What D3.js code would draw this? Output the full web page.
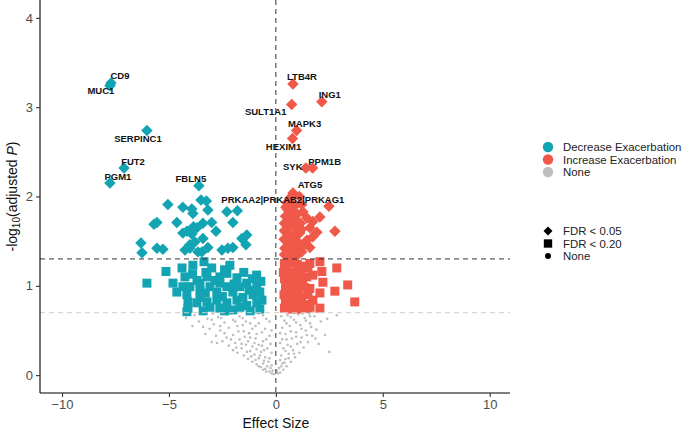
<!DOCTYPE html>
<html>
<head>
<meta charset="utf-8">
<script src="https://cdn.jsdelivr.net/npm/d3@7"></script>
<style>
  body { margin: 0; background: #fff; }
  text { font-family: "Liberation Sans", Arial, sans-serif; }
</style>
</head>
<body>
<svg id="chart" width="685" height="433"></svg>
<script>
const TEAL = '#13A4B4';
const RED = '#F0584A';
const GREY = '#BEBEBE';

// [effect size, -log10 adjusted P]
const decreaseLabelled = [
  ['CD9', -7.71, 3.27], ['MUC1', -7.76, 3.24], ['SERPINC1', -6.03, 2.74],
  ['FUT2', -7.1, 2.32], ['PGM1', -7.76, 2.15], ['FBLN5', -3.6, 2.12]
];
const increaseLabelled = [
  ['LTB4R', 0.8, 3.26], ['ING1', 2.15, 3.06], ['SULT1A1', 0.74, 3.03],
  ['MAPK3', 0.97, 2.74], ['HEXIM1', 0.78, 2.65], ['SYK', 1.4, 2.32],
  ['PPM1B', 1.72, 2.32], ['ATG5', 0.8, 2.04], ['PRKAA2|PRKAB2|PRKAG1', 2.48, 1.89]
];

const decreaseFdr05 = [
  [-5.05,1.91],[-4.35,1.88],[-3.93,1.86],[-3.5,1.96],[-3.25,1.95],[-3.18,1.85],[-2.29,1.83],
  [-1.8,1.84],[-5.56,1.71],[-5.7,1.69],[-4.63,1.71],[-3.88,1.81],[-3.85,1.66],[-3.41,1.7],
  [-3.0,1.71],[-2.8,1.61],[-2.01,1.71],[-4.35,1.59],[-4.02,1.62],[-3.69,1.65],[-3.93,1.58],
  [-3.79,1.49],[-4.02,1.46],[-3.41,1.53],[-3.18,1.43],[-3.46,1.38],[-2.52,1.4],[-2.24,1.42],
  [-1.59,1.53],[-1.4,1.46],[-1.36,1.57],[-5.56,1.42],[-5.28,1.41],[-6.31,1.48],[-6.26,1.37],
  [-4.16,1.61],[-2.01,1.43],[-3.64,1.38],[-4.02,1.42],[-4.25,1.4]
];
const decreaseFdr20 = [
  [-6.03,1.03],[-5.14,1.16],[-4.39,1.2],[-3.88,1.23],[-3.36,1.27],[-3.27,1.15],[-2.15,1.23],
  [-4.25,1.1],[-3.69,1.06],[-4.63,0.93],[-4.81,1.03],[-4.16,0.9],[-4.11,0.82],[-4.11,0.75],
  [-3.55,0.95],[-3.08,0.99],[-2.62,1.1],[-2.29,1.14],[-1.82,1.09],[-1.68,0.99],[-1.36,1.03],
  [-0.89,0.99],[-0.75,0.93],[-0.65,0.84],[-0.89,0.81],[-1.36,0.78],[-1.82,0.84],[-2.29,0.81],
  [-2.76,0.84],[-3.22,0.82],[-3.69,0.81],[-3.08,0.76],[-2.62,0.75],[-2.01,0.73],[-1.68,0.76],
  [-4.16,0.71],[-3.55,0.87],[-2.76,0.93],[-2.01,0.93],[-2.62,1.03],[-3.55,1.03],[-4.02,0.99],
  [-1.54,0.87],[-1.07,0.9],[-3.22,1.1],[-2.85,1.06],[-2.29,0.99],[-4.35,0.99],[-3.4,0.72],
  [-2.4,0.72],[-1.2,0.72],[-0.75,0.74],[-3.9,1.13],[-3.0,1.2],[-2.4,1.18],[-1.5,1.15],
  [-1.1,1.08],[-0.7,1.05],[-0.9,1.12],[-1.95,1.02],[-3.3,0.92],[-2.5,0.88],[-1.25,0.95]
];
const increaseFdr05 = [
  [0.52,1.93],[0.7,1.95],[0.9,1.9],[0.56,1.85],[0.75,1.82],[0.45,1.78],[0.65,1.75],[0.85,1.76],
  [1.0,1.8],[1.26,1.83],[1.45,1.76],[1.73,1.72],[2.06,1.77],[0.4,1.7],[0.6,1.68],[0.8,1.66],
  [1.03,1.67],[1.2,1.63],[1.59,1.65],[1.92,1.6],[2.76,1.61],[1.12,1.59],[0.93,1.58],[0.47,1.6],
  [0.7,1.55],[0.38,1.52],[0.56,1.48],[0.84,1.5],[1.03,1.49],[1.73,1.55],[1.45,1.51],[1.0,1.4],
  [1.59,1.43],[1.21,1.38],[0.42,1.42],[0.65,1.4],[0.5,1.34],[0.75,1.33],[0.95,1.33],[1.3,1.45],
  [0.47,1.88],[0.65,1.98],[1.1,2.0],[1.21,1.91],[0.4,1.62],[0.6,1.58],[0.4,1.35],[0.85,1.43],
  [1.15,1.7],[0.9,1.72]
];
const increaseFdr20 = [
  [1.59,1.25],[2.06,1.27],[2.15,1.16],[2.85,1.2],[1.73,1.12],[2.2,1.04],[2.06,0.92],[2.76,0.94],
  [3.36,1.01],[3.69,0.82],[1.59,0.97],[1.73,0.84],[2.06,0.75],[1.45,0.75],
  [0.4,1.25],[0.7,1.26],[1.0,1.24],[1.3,1.22],[0.5,1.17],[0.85,1.15],[1.15,1.13],[0.4,1.08],
  [0.65,1.06],[0.95,1.05],[1.25,1.03],[0.45,0.98],[0.75,0.97],[1.05,0.96],[1.35,0.98],[0.38,0.9],
  [0.6,0.88],[0.9,0.89],[1.2,0.87],[0.5,0.82],[0.8,0.8],[1.1,0.8],[1.4,0.79],[0.4,0.75],
  [0.7,0.74],[1.0,0.74],[1.3,0.75],[0.55,1.2],[1.45,1.1],[0.35,1.15],[1.5,0.9],[1.6,0.76],[1.5,1.2],
  [0.55,1.0],[0.8,1.1],[1.1,1.18],[0.45,0.84],[0.75,0.86],[1.05,0.9]
];
const notSignificant = [
  [-0.3,0.04],[-0.5,0.07],[-0.2,0.02],[-0.7,0.09],[-0.4,0.1],[-0.9,0.12],[-0.6,0.13],[-1.1,0.15],
  [-0.35,0.15],[-1.3,0.18],[-0.8,0.19],[-1.5,0.22],[-0.5,0.2],[-1.0,0.23],[-1.8,0.25],[-1.2,0.27],
  [-0.7,0.26],[-2.0,0.28],[-1.6,0.3],[-0.4,0.3],[-2.2,0.33],[-1.4,0.34],[-1.9,0.36],[-1.0,0.36],
  [-3.0,0.37],[-2.5,0.38],[-0.6,0.38],[-1.7,0.4],[-2.3,0.42],[-1.2,0.42],[-2.8,0.44],[-0.3,0.44],
  [-2.0,0.45],[-0.9,0.46],[-3.4,0.54],[-2.6,0.5],[-1.5,0.49],[-3.1,0.52],[-2.2,0.53],[-1.1,0.52],
  [-0.5,0.52],[-1.8,0.55],[-2.9,0.57],[-0.8,0.58],[-3.6,0.6],[-2.4,0.59],[-1.4,0.6],[-0.3,0.6],
  [-2.0,0.62],[-3.2,0.63],[-1.0,0.64],[-2.7,0.65],[-1.7,0.66],[-3.8,0.67],[-0.6,0.67],[-2.3,0.68],
  [-1.3,0.69],[-3.5,0.69],[-4.2,0.64],[-2.95,0.69],
  [-0.1,0.01],[-0.15,0.05],[-0.25,0.08],[-0.45,0.04],[-0.6,0.06],[-0.8,0.1],[-0.2,0.11],
  [-0.55,0.16],[-0.95,0.17],[-0.3,0.19],[-0.75,0.22],[-1.15,0.21],[-0.2,0.25],[-0.9,0.29],
  [-1.35,0.26],[-0.55,0.28],[-1.1,0.32],[-0.25,0.35],[-0.8,0.34],[-1.6,0.35],[-0.45,0.4],
  [-0.95,0.41],[-1.45,0.43],[-2.1,0.4],[-0.65,0.48],[-1.25,0.47],[-1.75,0.49],[-2.4,0.47],
  [-0.2,0.5],[-0.95,0.55],[-1.55,0.56],[-2.6,0.55],[-3.3,0.46],[-0.45,0.63],[-1.2,0.58],
  [-1.9,0.6],[-2.55,0.64],[-0.8,0.69],[-1.55,0.64],[-2.1,0.69],[-3.0,0.62],[-3.9,0.55],
  [-2.75,0.36],[-1.85,0.31],[-0.65,0.33],[-1.3,0.38],
  [0.2,0.03],[0.35,0.06],[0.15,0.08],[0.5,0.1],[0.3,0.13],[0.7,0.15],[0.45,0.18],[0.9,0.2],
  [0.25,0.22],[0.6,0.24],[1.1,0.25],[0.8,0.28],[0.35,0.3],[1.3,0.31],[0.55,0.34],[1.0,0.35],
  [1.5,0.37],[0.3,0.4],[0.75,0.41],[1.2,0.42],[1.7,0.44],[0.45,0.46],[0.95,0.48],[1.4,0.5],
  [1.9,0.51],[0.3,0.53],[0.65,0.55],[1.15,0.56],[1.6,0.58],[2.1,0.6],[0.4,0.61],[0.85,0.62],
  [1.35,0.64],[1.8,0.66],[0.55,0.67],[1.05,0.68],[2.85,0.67],[2.5,0.26],[2.3,0.45],[1.55,0.69],
  [0.25,0.66],[2.0,0.35],
  [0.1,0.02],[0.05,0.05],[0.25,0.1],[0.4,0.14],[0.6,0.19],[0.2,0.17],[0.85,0.24],[0.45,0.27],
  [0.7,0.32],[0.2,0.36],[1.15,0.37],[0.5,0.4],[0.95,0.43],[1.45,0.45],[0.2,0.47],[0.7,0.49],
  [1.2,0.52],[1.65,0.54],[0.5,0.58],[0.95,0.59],[1.4,0.61],[0.7,0.65],[1.25,0.69],[2.4,0.63],
  [1.85,0.41],[1.6,0.66]
];

const xTicks = [-10, -5, 0, 5, 10];
const yTicks = [0, 1, 2, 3, 4];
const thresholds = [1.301, 0.699];
const colourLegend = ['Decrease Exacerbation', 'Increase Exacerbation', 'None'];
const shapeLegend = ['FDR < 0.05', 'FDR < 0.20', 'None'];

// label placement (pixel offsets from the point, like ggrepel)
const labelOffset = {
  'CD9': [9, -4], 'MUC1': [-9, 8], 'SERPINC1': [-9, 12], 'FUT2': [9, -3], 'PGM1': [8, -3],
  'FBLN5': [-8, -4], 'LTB4R': [9, -4], 'ING1': [8, -4], 'SULT1A1': [-26, 10], 'MAPK3': [8, -3],
  'HEXIM1': [-9, 12], 'SYK': [-13, 2], 'PPM1B': [12, -3], 'ATG5': [17, -5],
  'PRKAA2|PRKAB2|PRKAG1': [-46, -3]
};

const svg = d3.select('#chart');
const panel = {left: 40, right: 510, top: 0, bottom: 393};

const x = d3.scaleLinear().domain([-11.03, 10.95]).range([panel.left, panel.right]);
const y = d3.scaleLinear().domain([-0.2, 4.2]).range([panel.bottom, panel.top]);

const plot = svg.append('g');

// grey cloud
plot.append('g').selectAll('circle')
  .data(notSignificant)
  .enter().append('circle')
  .attr('cx', d => x(d[0]))
  .attr('cy', d => y(d[1]))
  .attr('r', 1.3)
  .attr('fill', GREY);

// squares (FDR < 0.20)
let square = d3.symbol().type(d3.symbolSquare).size(81);
function drawSquares(data, colour) {
  plot.append('g').selectAll('path')
    .data(data)
    .enter().append('path')
    .attr('d', square)
    .attr('transform', d => `translate(${x(d[0])},${y(d[1])})`)
    .attr('fill', colour);
}
drawSquares(decreaseFdr20, TEAL);
drawSquares(increaseFdr20, RED);

// diamonds (FDR < 0.05)
let diamond = d3.symbol().type(d3.symbolSquare).size(66);
function drawDiamonds(data, colour) {
  plot.append('g').selectAll('path')
    .data(data)
    .enter().append('path')
    .attr('d', diamond)
    .attr('transform', d => `translate(${x(d[0])},${y(d[1])}) rotate(45)`)
    .attr('fill', colour);
}
drawDiamonds(decreaseFdr05, TEAL);
drawDiamonds(increaseFdr05, RED);
drawDiamonds(decreaseLabelled.map(d => [d[1], d[2]]), TEAL);
drawDiamonds(increaseLabelled.map(d => [d[1], d[2]]), RED);

// threshold lines
plot.append('line')
  .attr('x1', x(0)).attr('x2', x(0))
  .attr('y1', panel.top).attr('y2', panel.bottom)
  .attr('stroke', '#333').attr('stroke-width', 1)
  .attr('stroke-dasharray', '5,4');

plot.selectAll('line.thr')
  .data(thresholds)
  .enter().append('line')
  .attr('class', 'thr')
  .attr('x1', panel.left).attr('x2', panel.right)
  .attr('y1', d => y(d)).attr('y2', d => y(d))
  .attr('stroke', (d, i) => i === 0 ? '#333' : '#ccc')
  .attr('stroke-width', 1)
  .attr('stroke-dasharray', '5,4');

// gene labels
plot.append('g').selectAll('text')
  .data(decreaseLabelled.concat(increaseLabelled))
  .enter().append('text')
  .attr('x', d => x(d[1]) + labelOffset[d[0]][0])
  .attr('y', d => y(d[2]) + labelOffset[d[0]][1])
  .attr('text-anchor', 'middle')
  .style('font-size', '9.5px')
  .style('font-weight', 'bold')
  .attr('fill', '#111')
  .text(d => d[0]);

// axes
let xAxis = svg.append('g')
  .attr('transform', `translate(0,${panel.bottom})`)
  .call(d3.axisBottom(x).tickValues(xTicks).tickFormat(d3.format('d')).tickSize(4).tickPadding(3));
let yAxis = svg.append('g')
  .attr('transform', `translate(${panel.left},0)`)
  .call(d3.axisLeft(y).tickValues(yTicks).tickFormat(d3.format('d')).tickSize(4).tickPadding(3));

[xAxis, yAxis].forEach(a => {
  a.select('.domain').attr('stroke', '#000').attr('stroke-width', 1.1)
    .attr('d', a === xAxis ? `M${panel.left},0H${panel.right}` : `M0,${panel.top}V${panel.bottom}`);
  a.selectAll('.tick line').attr('stroke', '#333').attr('stroke-width', 1.1);
  a.selectAll('.tick text')
    .attr('fill', '#4d4d4d')
    .style('font-size', '13px')
    .style('font-family', '"Liberation Sans", Arial, sans-serif');
});

svg.append('text')
  .attr('x', x(0))
  .attr('y', 428)
  .attr('text-anchor', 'middle')
  .style('font-size', '14px')
  .attr('fill', '#111')
  .text('Effect Size');

let yTitle = svg.append('text')
  .attr('transform', `translate(17,${(panel.top + panel.bottom) / 2}) rotate(-90)`)
  .attr('text-anchor', 'middle')
  .style('font-size', '14px')
  .attr('fill', '#111');
yTitle.append('tspan').text('-log');
yTitle.append('tspan').attr('dy', 3).style('font-size', '10px').text('10');
yTitle.append('tspan').attr('dy', -3).text('(adjusted ');
yTitle.append('tspan').style('font-style', 'italic').text('P');
yTitle.append('tspan').text(')');

// legends
const colours = [TEAL, RED, GREY];
let legend1 = svg.append('g').attr('transform', 'translate(548,147)');
legend1.selectAll('circle')
  .data(colourLegend)
  .enter().append('circle')
  .attr('cy', (d, i) => i * 12.5)
  .attr('r', 5.2)
  .attr('fill', (d, i) => colours[i]);
legend1.selectAll('text')
  .data(colourLegend)
  .enter().append('text')
  .attr('x', 15)
  .attr('y', (d, i) => i * 12.5 + 4.3)
  .style('font-size', '11.4px')
  .attr('fill', '#222')
  .text(d => d);

let legend2 = svg.append('g').attr('transform', 'translate(548,231)');
legend2.append('path')
  .attr('d', d3.symbol().type(d3.symbolSquare).size(40)())
  .attr('transform', 'rotate(45)')
  .attr('fill', '#000');
legend2.append('path')
  .attr('d', d3.symbol().type(d3.symbolSquare).size(70)())
  .attr('transform', 'translate(0,12.5)')
  .attr('fill', '#000');
legend2.append('circle')
  .attr('cy', 25)
  .attr('r', 3)
  .attr('fill', '#000');
legend2.selectAll('text')
  .data(shapeLegend)
  .enter().append('text')
  .attr('x', 15)
  .attr('y', (d, i) => i * 12.5 + 4.3)
  .style('font-size', '11.4px')
  .attr('fill', '#222')
  .text(d => d);
</script>
</body>
</html>
